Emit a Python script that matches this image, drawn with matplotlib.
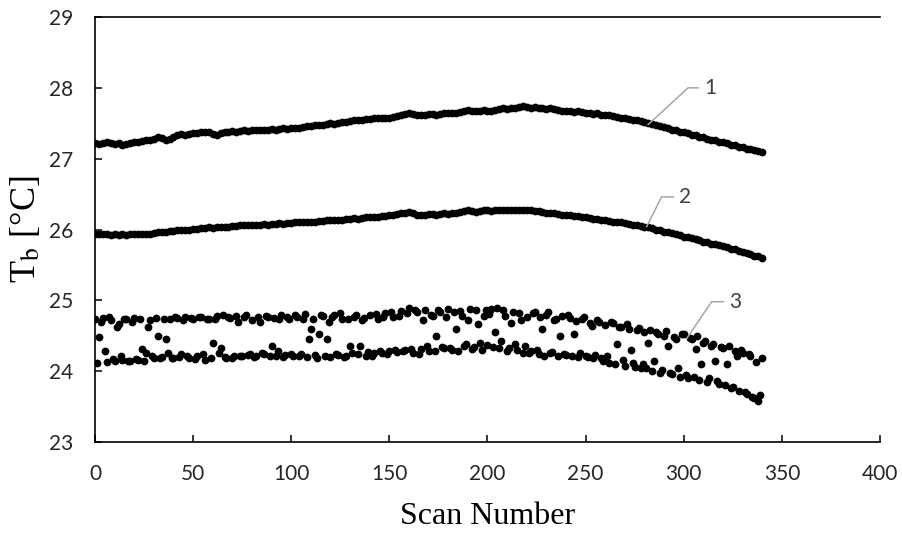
import numpy as np
import matplotlib
matplotlib.use("Agg")
import matplotlib.pyplot as plt

# ---------------- data ----------------
scan = list(range(0, 341, 2))
scan_odd = list(range(1, 340, 2))

series1 = [
    27.22, 27.21, 27.22, 27.23, 27.22, 27.21, 27.22, 27.20, 27.21, 27.22,
    27.23, 27.23, 27.25, 27.26, 27.26, 27.28, 27.30, 27.29, 27.27, 27.28,
    27.31, 27.33, 27.35, 27.34, 27.35, 27.36, 27.36, 27.37, 27.38, 27.37,
    27.35, 27.34, 27.36, 27.38, 27.38, 27.39, 27.38, 27.39, 27.40, 27.39,
    27.40, 27.40, 27.41, 27.40, 27.41, 27.42, 27.41, 27.42, 27.43, 27.42,
    27.43, 27.44, 27.44, 27.45, 27.46, 27.46, 27.47, 27.48, 27.48, 27.49,
    27.50, 27.49, 27.51, 27.52, 27.52, 27.53, 27.54, 27.55, 27.55, 27.56,
    27.56, 27.57, 27.57, 27.58, 27.57, 27.58, 27.59, 27.60, 27.62, 27.63,
    27.64, 27.63, 27.62, 27.61, 27.62, 27.63, 27.63, 27.62, 27.63, 27.64,
    27.64, 27.65, 27.65, 27.66, 27.67, 27.69, 27.68, 27.67, 27.68, 27.69,
    27.68, 27.67, 27.69, 27.70, 27.71, 27.70, 27.71, 27.72, 27.73, 27.74,
    27.73, 27.72, 27.73, 27.72, 27.71, 27.70, 27.71, 27.70, 27.69, 27.68,
    27.68, 27.67, 27.66, 27.67, 27.66, 27.65, 27.64, 27.63, 27.64, 27.62,
    27.62, 27.61, 27.60, 27.59, 27.58, 27.58, 27.56, 27.55, 27.54, 27.53,
    27.52, 27.51, 27.49, 27.48, 27.46, 27.45, 27.43, 27.41, 27.40, 27.38,
    27.37, 27.36, 27.34, 27.33, 27.31, 27.30, 27.28, 27.27, 27.26, 27.24,
    27.23, 27.22, 27.20, 27.19, 27.17, 27.16, 27.14, 27.13, 27.12, 27.11,
    27.09,
]

series2 = [
    25.94, 25.93, 25.94, 25.93, 25.92, 25.93, 25.92, 25.93, 25.92, 25.93,
    25.93, 25.94, 25.93, 25.94, 25.93, 25.95, 25.97, 25.96, 25.97, 25.98,
    25.98, 25.99, 26.00, 25.99, 26.00, 26.01, 26.01, 26.02, 26.02, 26.03,
    26.02, 26.03, 26.04, 26.03, 26.04, 26.05, 26.05, 26.06, 26.06, 26.07,
    26.06, 26.07, 26.07, 26.08, 26.07, 26.08, 26.08, 26.09, 26.08, 26.09,
    26.09, 26.10, 26.10, 26.11, 26.10, 26.11, 26.11, 26.12, 26.12, 26.13,
    26.13, 26.13, 26.14, 26.14, 26.15, 26.15, 26.16, 26.15, 26.16, 26.17,
    26.17, 26.18, 26.18, 26.19, 26.19, 26.20, 26.21, 26.22, 26.23, 26.24,
    26.25, 26.23, 26.21, 26.20, 26.21, 26.22, 26.22, 26.21, 26.22, 26.23,
    26.22, 26.23, 26.24, 26.25, 26.26, 26.27, 26.26, 26.25, 26.26, 26.27,
    26.27, 26.26, 26.27, 26.28, 26.27, 26.28, 26.28, 26.27, 26.28, 26.28,
    26.27, 26.27, 26.26, 26.26, 26.25, 26.24, 26.24, 26.23, 26.22, 26.21,
    26.21, 26.20, 26.19, 26.19, 26.18, 26.17, 26.16, 26.15, 26.15, 26.14,
    26.13, 26.12, 26.11, 26.11, 26.10, 26.09, 26.08, 26.07, 26.06, 26.05,
    26.04, 26.03, 26.02, 26.00, 25.99, 25.97, 25.96, 25.95, 25.93, 25.92,
    25.90, 25.89, 25.88, 25.86, 25.85, 25.83, 25.82, 25.80, 25.79, 25.78,
    25.76, 25.75, 25.73, 25.72, 25.70, 25.68, 25.67, 25.65, 25.63, 25.62,
    25.60,
]

# series 3, even scans
series3 = [
    24.74, 24.48, 24.75, 24.13, 24.72, 24.15, 24.67, 24.16, 24.74, 24.14,
    24.75, 24.16, 24.32, 24.26, 24.72, 24.18, 24.50, 24.20, 24.45, 24.74,
    24.19, 24.75, 24.24, 24.76, 24.18, 24.73, 24.21, 24.77, 24.16, 24.74,
    24.40, 24.78, 24.33, 24.20, 24.77, 24.19, 24.78, 24.22, 24.76, 24.23,
    24.72, 24.22, 24.70, 24.24, 24.77, 24.35, 24.22, 24.74, 24.20, 24.76,
    24.24, 24.79, 24.21, 24.74, 24.20, 24.60, 24.23, 24.53, 24.78, 24.45,
    24.20, 24.79, 24.23, 24.73, 24.21, 24.35, 24.77, 24.24, 24.72, 24.22,
    24.80, 24.26, 24.74, 24.25, 24.82, 24.28, 24.77, 24.27, 24.85, 24.30,
    24.89, 24.26, 24.83, 24.32, 24.86, 24.28, 24.78, 24.50, 24.84, 24.33,
    24.88, 24.30, 24.60, 24.85, 24.35, 24.72, 24.31, 24.86, 24.40, 24.78,
    24.37, 24.88, 24.55, 24.33, 24.87, 24.29, 24.68, 24.38, 24.82, 24.25,
    24.77, 24.28, 24.84, 24.24, 24.60, 24.80, 24.25, 24.72, 24.22, 24.78,
    24.23, 24.75, 24.52, 24.20, 24.74, 24.21, 24.68, 24.18, 24.72, 24.19,
    24.65, 24.12, 24.68, 24.38, 24.62, 24.08, 24.60, 24.12, 24.58, 24.04,
    24.55, 24.40, 24.00, 24.56, 23.98, 24.50, 24.36, 23.96, 24.46, 23.92,
    24.52, 23.90, 24.45, 24.32, 23.88, 24.40, 23.85, 24.36, 24.15, 23.82,
    24.33, 24.10, 23.76, 24.28, 23.72, 24.25, 23.68, 24.22, 23.62, 23.58,
    24.18,
]

# series 3, odd scans
series3_odd = [
    24.12, 24.70, 24.28, 24.76, 24.17, 24.62, 24.21, 24.73, 24.15, 24.70,
    24.17, 24.74, 24.14, 24.63, 24.22, 24.75, 24.19, 24.74, 24.25, 24.18,
    24.76, 24.20, 24.72, 24.22, 24.75, 24.17, 24.76, 24.24, 24.73, 24.18,
    24.74, 24.25, 24.79, 24.18, 24.75, 24.22, 24.70, 24.21, 24.79, 24.24,
    24.20, 24.76, 24.25, 24.78, 24.21, 24.75, 24.28, 24.80, 24.23, 24.73,
    24.22, 24.77, 24.24, 24.81, 24.45, 24.74, 24.19, 24.80, 24.22, 24.70,
    24.76, 24.24, 24.82, 24.20, 24.74, 24.26, 24.79, 24.35, 24.75, 24.27,
    24.22, 24.81, 24.29, 24.76, 24.24, 24.84, 24.30, 24.78, 24.28, 24.82,
    24.31, 24.86, 24.24, 24.72, 24.35, 24.80, 24.29, 24.87, 24.34, 24.76,
    24.33, 24.84, 24.28, 24.78, 24.38, 24.88, 24.34, 24.66, 24.30, 24.86,
    24.81, 24.34, 24.89, 24.42, 24.78, 24.33, 24.84, 24.30, 24.72, 24.36,
    24.26, 24.82, 24.30, 24.76, 24.22, 24.84, 24.27, 24.74, 24.50, 24.24,
    24.79, 24.22, 24.71, 24.26, 24.77, 24.20, 24.64, 24.23, 24.69, 24.14,
    24.22, 24.70, 24.10, 24.63, 24.16, 24.66, 24.30, 24.06, 24.61, 24.10,
    24.04, 24.58, 24.14, 24.52, 24.02, 24.57, 23.97, 24.48, 24.05, 24.52,
    23.94, 24.47, 23.92, 24.50, 24.10, 24.42, 23.90, 24.38, 23.86, 24.34,
    23.80, 24.36, 23.78, 24.22, 24.30, 23.70, 24.24, 23.64, 24.13, 23.66,
]

x_ticks = [0, 50, 100, 150, 200, 250, 300, 350, 400]
y_ticks = [23, 24, 25, 26, 27, 28, 29]

labels = ["1", "2", "3"]
# leader lines: tip on the series, bend point, end point (data coords)
leader_tips = [(281.8, 27.48), (281.1, 26.04), (301.5, 24.46)]
leader_bends = [(302.2, 28.00), (288.7, 26.46), (314.2, 24.98)]
leader_ends = [(307.3, 28.00), (294.7, 26.46), (320.2, 24.98)]

# ---------------- plot ----------------
plt.rcParams["mathtext.fontset"] = "stix"

fig = plt.figure(figsize=(9.03, 5.34), dpi=100)
ax = fig.add_axes([95 / 903, 1 - 442 / 534, (880 - 95) / 903, (442 - 17) / 534])

mk = dict(linestyle="none", marker="o", markersize=5.6,
          markeredgewidth=0, color="black")
ax.plot(scan, series1, **mk)
ax.plot(scan, series2, **mk)
ax.plot(scan, series3, **mk)
ax.plot(scan_odd, series3_odd, **mk)

for lab, tip, bend, end in zip(labels, leader_tips, leader_bends, leader_ends):
    ax.plot([tip[0], bend[0], end[0]], [tip[1], bend[1], end[1]],
            color="#a6a6a6", linewidth=1.1)
    ax.text(end[0] + 3, end[1], lab, fontsize=15, family="Lato",
            color="#404040", va="center", ha="left")

ax.set_xlim(0, 400)
ax.set_ylim(23, 29)
ax.set_xticks(x_ticks)
ax.set_yticks(y_ticks)

ax.tick_params(axis="both", direction="in", length=5, width=1.1,
               labelsize=15, colors="black", labelcolor="#262626")
ax.tick_params(axis="x", pad=16)
ax.tick_params(axis="y", pad=16)
for lab in ax.get_xticklabels() + ax.get_yticklabels():
    lab.set_family("Lato")

for side in ("left", "bottom", "top"):
    ax.spines[side].set_linewidth(1.2)
ax.spines["right"].set_visible(False)

ax.set_xlabel("Scan Number", fontsize=23, family="Liberation Serif", labelpad=13)
ax.set_ylabel(r"T$_\mathrm{b}$ [°C]", fontsize=26, family="Liberation Serif",
              labelpad=4)

fig.savefig("out.png", dpi=100)
